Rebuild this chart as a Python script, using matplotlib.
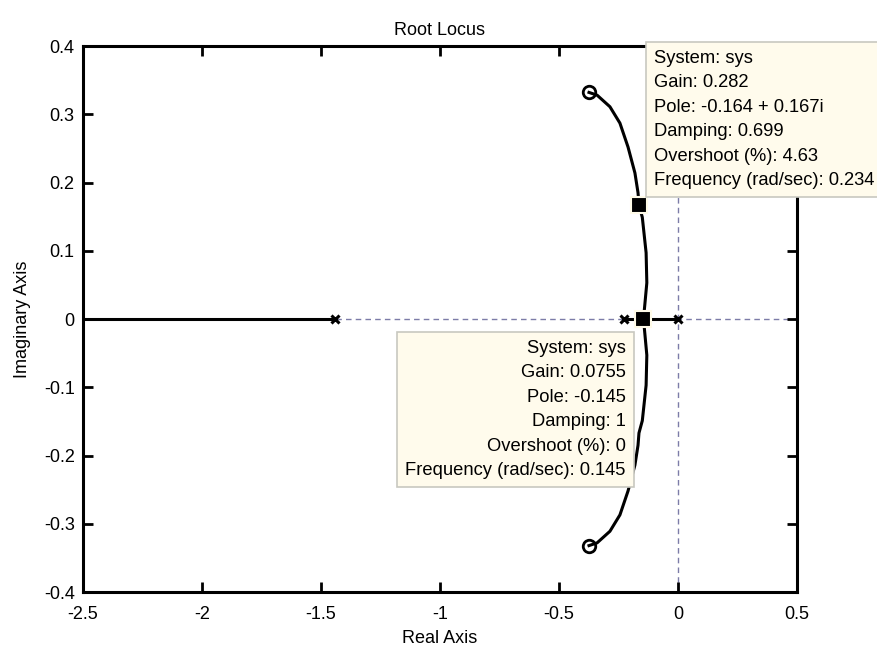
import numpy as np
import matplotlib.pyplot as plt

plt.rcParams['font.family'] = ['Liberation Sans', 'DejaVu Sans']

# open-loop poles (real) and zeros (complex pair)
poles = [-1.44, -0.226, 0.0]
zeros_re = [-0.374, -0.374]
zeros_im = [0.332, -0.332]

# upper complex branch, from breakaway point to the zero
branch_re = [-0.145, -0.131, -0.134, -0.150, -0.164, -0.168, -0.181, -0.210,
             -0.244, -0.286, -0.340, -0.374]
branch_im = [0.0, 0.053, 0.097, 0.149, 0.167, 0.185, 0.214, 0.252,
             0.287, 0.311, 0.328, 0.332]

# data tips
tip_pole_re = [-0.164, -0.145]
tip_pole_im = [0.167, 0.0]
tip_gain = ['0.282', '0.0755']
tip_pole_txt = ['-0.164 + 0.167i', '-0.145']
tip_damping = ['0.699', '1']
tip_overshoot = ['4.63', '0']
tip_freq = ['0.234', '0.145']

xticks = [-2.5, -2, -1.5, -1, -0.5, 0, 0.5]
xticklabels = ['-2.5', '-2', '-1.5', '-1', '-0.5', '0', '0.5']
yticks = [-0.4, -0.3, -0.2, -0.1, 0, 0.1, 0.2, 0.3, 0.4]
yticklabels = ['-0.4', '-0.3', '-0.2', '-0.1', '0', '0.1', '0.2', '0.3', '0.4']

FS = 13
TIP_FS = 13.2
grid_col = '#7c7ca8'

fig = plt.figure(figsize=(8.77, 6.48), dpi=100)
ax = fig.add_axes([0.0946, 0.0864, 0.8142, 0.8426])
ax.set_xlim(-2.5, 0.5)
ax.set_ylim(-0.4, 0.4)

# dashed axes through the origin
ax.axhline(0, color=grid_col, lw=1.0, ls=(0, (4, 3)), zorder=1)
ax.axvline(0, color=grid_col, lw=1.0, ls=(0, (4, 3)), zorder=1)

# real-axis segments of the locus
ax.plot([-2.5, poles[0]], [0, 0], color='k', lw=2.2, zorder=3)
ax.plot([poles[1], poles[2]], [0, 0], color='k', lw=2.2, zorder=3)

# complex branches
br_re = np.array(branch_re)
br_im = np.array(branch_im)
ax.plot(br_re, br_im, color='k', lw=2.2, zorder=3)
ax.plot(br_re, -br_im, color='k', lw=2.2, zorder=3)

ax.plot(poles, [0] * len(poles), 'x', color='k', ms=6, mew=2.2, zorder=4)
ax.plot(zeros_re, zeros_im, 'o', mfc='none', mec='k', ms=9, mew=2.0, zorder=4)

ax.plot(tip_pole_re, tip_pole_im, 's', color='k', mec='#fffbe8', ms=12,
        mew=1.5, zorder=5)

box = dict(boxstyle='square,pad=0.45', fc='#fffbec', ec='#c8c8c0', lw=1.2)
offsets = [(15, 155), (-18, -21)]
aligns = ['left', 'right']
for i in range(2):
    txt = ('System: sys\nGain: %s\nPole: %s\nDamping: %s\n'
           'Overshoot (%%): %s\nFrequency (rad/sec): %s'
           % (tip_gain[i], tip_pole_txt[i], tip_damping[i],
              tip_overshoot[i], tip_freq[i]))
    ax.annotate(txt, xy=(tip_pole_re[i], tip_pole_im[i]),
                xytext=offsets[i], textcoords='offset pixels',
                ha=aligns[i], va='top', multialignment=aligns[i],
                fontsize=TIP_FS, linespacing=1.57, bbox=box, zorder=10,
                annotation_clip=False)

ax.set_xticks(xticks)
ax.set_xticklabels(xticklabels)
ax.set_yticks(yticks)
ax.set_yticklabels(yticklabels)
ax.tick_params(direction='in', length=7, width=2, labelsize=FS,
               top=True, right=True)
ax.tick_params(axis='x', pad=10)
ax.tick_params(axis='y', pad=6)
for sp in ax.spines.values():
    sp.set_linewidth(2.2)

ax.set_title('Root Locus', fontsize=FS, pad=8)
ax.set_xlabel('Real Axis', fontsize=FS, labelpad=5)
ax.set_ylabel('Imaginary Axis', fontsize=FS, labelpad=9)

fig.savefig('out.png', dpi=100)
